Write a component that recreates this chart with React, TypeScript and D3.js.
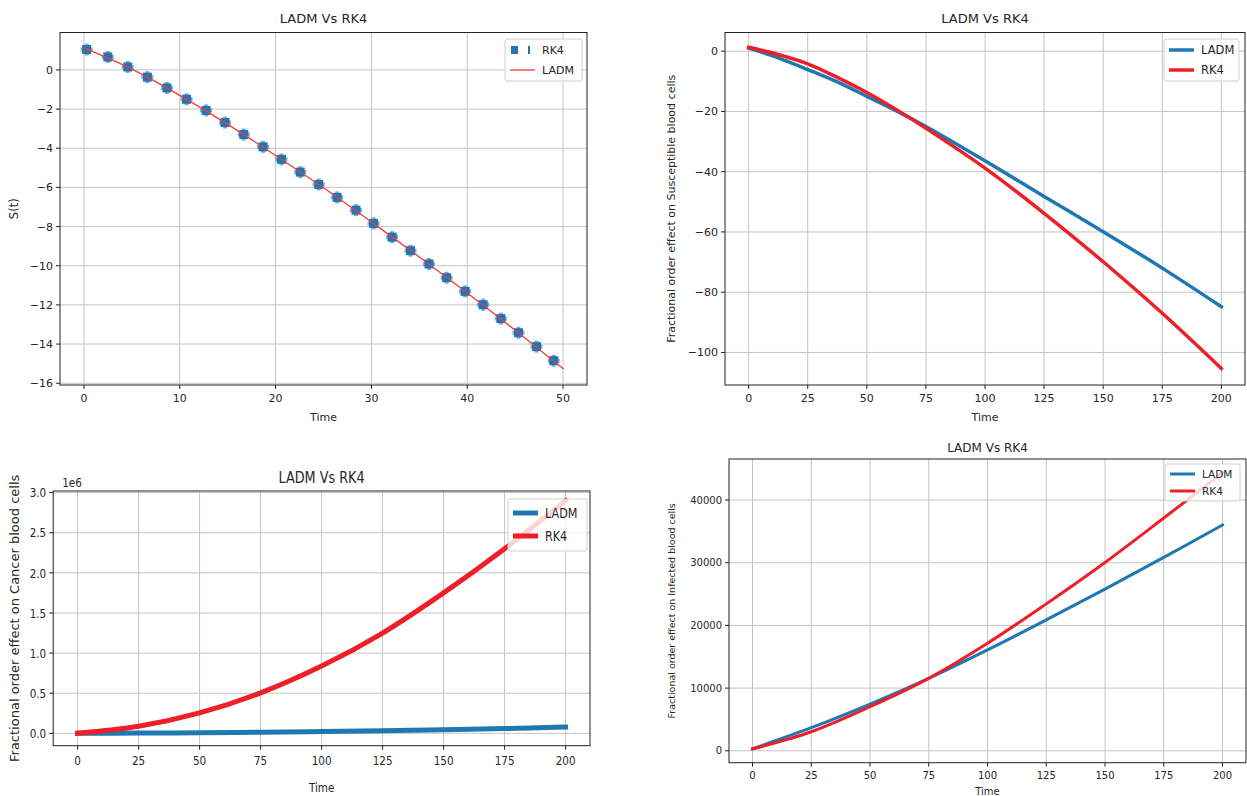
import React from "react";
import * as d3 from "d3";

// ---------- DATA ----------
// Panel 1: S(t)
const p1RkT = [0.28, 2.49, 4.57, 6.62, 8.66, 10.71, 12.75, 14.72, 16.68, 18.69, 20.61, 22.57, 24.5, 26.42, 28.39, 30.23, 32.16, 34.08, 36.01, 37.85, 39.78, 41.66, 43.51, 45.35, 47.23, 49.03];
const p1RkV = [1.04, 0.66, 0.15, -0.37, -0.92, -1.5, -2.07, -2.69, -3.3, -3.93, -4.57, -5.22, -5.85, -6.51, -7.16, -7.84, -8.54, -9.23, -9.91, -10.61, -11.31, -11.99, -12.7, -13.42, -14.13, -14.85];
const p1LadmT = [0, 5, 10, 15, 20, 25, 30, 35, 40, 45, 50];
const p1LadmV = [1.12, 0.04, -1.3, -2.78, -4.37, -6.02, -7.76, -9.55, -11.39, -13.29, -15.25];
const p1XTicks = [0, 10, 20, 30, 40, 50];
const p1YTicks = [0, -2, -4, -6, -8, -10, -12, -14, -16];

// Panel 2: Susceptible
const p2T = [0, 12.5, 25, 37.5, 50, 62.5, 75, 100, 125, 150, 175, 200];
const p2Ladm = [1.0, -2.2, -6.1, -10.2, -15.0, -19.8, -25.0, -36.4, -48.2, -59.9, -72.0, -84.8];
const p2Rk4 = [1.3, -1.1, -4.2, -8.7, -13.7, -19.4, -25.6, -38.8, -53.8, -69.9, -87.0, -105.3];
const p2XTicks = [0, 25, 50, 75, 100, 125, 150, 175, 200];
const p2YTicks = [0, -20, -40, -60, -80, -100];

// Panel 3: Cancer (values in 1e6)
const p3T = [0, 25, 50, 75, 100, 125, 150, 175, 200];
const p3Ladm = [0, 0.003, 0.007, 0.014, 0.022, 0.033, 0.045, 0.06, 0.078];
const p3Rk4 = [0, 0.088, 0.254, 0.504, 0.838, 1.25, 1.75, 2.3, 2.9];
const p3XTicks = [0, 25, 50, 75, 100, 125, 150, 175, 200];
const p3YTicks = [0, 0.5, 1.0, 1.5, 2.0, 2.5, 3.0];

// Panel 4: Infected
const p4T = [0, 25, 50, 75, 100, 125, 150, 175, 200];
const p4Ladm = [320, 3680, 7460, 11560, 16090, 20880, 25790, 30850, 36020];
const p4Rk4 = [300, 3040, 7030, 11560, 17150, 23440, 30050, 37130, 44350];
const p4XTicks = [0, 25, 50, 75, 100, 125, 150, 175, 200];
const p4YTicks = [0, 10000, 20000, 30000, 40000];

const BLUE = "#1f77b4";
const RED = "#ee1f26";
const FONT = "DejaVu Sans, sans-serif";
const TXT = "#262626";

const minus = (s: string) => s.replace("-", "\u2212");

type Series = { x: number[]; y: number[]; color: string; width: number; kind: "line" | "marker" };
type LegendItem = { label: string; color: string; width: number; kind: "line" | "marker" };

type PanelProps = {
  box: [number, number, number, number]; // left, right, top, bottom
  xDom: [number, number];
  yDom: [number, number];
  xTicks: number[];
  yTicks: number[];
  yFmt: (v: number) => string;
  title: string;
  titleY: number;
  titleSize: number;
  ylabel: string;
  ylabelX: number;
  ylabelSize: number;
  xlabelY: number;
  tickSize: number;
  series: Series[];
  legend: { x: number; y: number; w: number; h: number; fs: number; rowY: number[]; items: LegendItem[] };
  sx?: number;
  offset?: string;
};

function T({ x, y, sx = 1, children, ...rest }: any) {
  return (
    <text transform={`translate(${x},${y}) scale(${sx},1)`} fontFamily={FONT} fill={TXT} {...rest}>
      {children}
    </text>
  );
}

function Panel(p: PanelProps) {
  const [l, r, t, b] = p.box;
  const xs = d3.scaleLinear().domain(p.xDom).range([l, r]);
  const ys = d3.scaleLinear().domain(p.yDom).range([b, t]);
  const sx = p.sx ?? 1;
  const line = d3
    .line<[number, number]>()
    .x((d) => xs(d[0]))
    .y((d) => ys(d[1]))
    .curve(d3.curveCatmullRom);
  const cid = `clip${Math.round(l)}${Math.round(t)}`;
  return (
    <g>
      <defs>
        <clipPath id={cid}>
          <rect x={l} y={t} width={r - l} height={b - t} />
        </clipPath>
      </defs>
      {/* grid */}
      {p.xTicks.map((v) => (
        <line key={"gx" + v} x1={xs(v)} x2={xs(v)} y1={t} y2={b} stroke="#c4c4c4" strokeWidth={1} />
      ))}
      {p.yTicks.map((v) => (
        <line key={"gy" + v} x1={l} x2={r} y1={ys(v)} y2={ys(v)} stroke="#c4c4c4" strokeWidth={1} />
      ))}
      {/* series */}
      <g clipPath={`url(#${cid})`}>
        {p.series.map((s, i) => {
          const pts = s.x.map((xv, j) => [xv, s.y[j]] as [number, number]);
          if (s.kind === "line")
            return (
              <path key={i} d={line(pts) || ""} fill="none" stroke={s.color} strokeWidth={s.width} strokeLinecap="square" />
            );
          return (
            <g key={i}>
              {pts.map((d, j) => (
                <g key={j} transform={`translate(${xs(d[0])},${ys(d[1])})`}>
                  <rect x={-4.5} y={-4.5} width={9} height={9} fill={s.color} />
                  <rect x={-6} y={-2} width={12} height={4} fill={s.color} opacity={0.6} />
                  <rect x={-2} y={-6} width={4} height={12} fill={s.color} opacity={0.6} />
                </g>
              ))}
            </g>
          );
        })}
      </g>
      {/* frame */}
      <rect x={l} y={t} width={r - l} height={b - t} fill="none" stroke="#222" strokeWidth={1} />
      {/* ticks */}
      {p.xTicks.map((v) => (
        <g key={"tx" + v}>
          <line x1={xs(v)} x2={xs(v)} y1={b} y2={b + 4} stroke="#222" />
          <T x={xs(v)} y={b + 7 + p.tickSize * 0.95} sx={sx} textAnchor="middle" fontSize={p.tickSize}>
            {minus(String(v))}
          </T>
        </g>
      ))}
      {p.yTicks.map((v) => (
        <g key={"ty" + v}>
          <line x1={l - 4} x2={l} y1={ys(v)} y2={ys(v)} stroke="#222" />
          <T x={l - 7} y={ys(v) + p.tickSize * 0.36} sx={sx} textAnchor="end" fontSize={p.tickSize}>
            {minus(p.yFmt(v))}
          </T>
        </g>
      ))}
      {p.offset && (
        <T x={l + 9} y={t - 4} sx={sx} fontSize={p.tickSize}>
          {p.offset}
        </T>
      )}
      {/* labels */}
      <T x={(l + r) / 2} y={p.titleY} sx={sx} textAnchor="middle" fontSize={p.titleSize}>
        {p.title}
      </T>
      <T x={(l + r) / 2} y={p.xlabelY} sx={sx} textAnchor="middle" fontSize={p.tickSize}>
        Time
      </T>
      <text
        transform={`translate(${p.ylabelX},${(t + b) / 2}) rotate(-90)`}
        textAnchor="middle"
        fontFamily={FONT}
        fill={TXT}
        fontSize={p.ylabelSize}
      >
        {p.ylabel}
      </text>
      {/* legend */}
      <rect
        x={p.legend.x}
        y={p.legend.y}
        width={p.legend.w}
        height={p.legend.h}
        rx={2}
        fill="white"
        fillOpacity={0.8}
        stroke="#d0d0d0"
      />
      {p.legend.items.map((it, i) => {
        const yy = p.legend.rowY[i];
        const x0 = p.legend.x + 5;
        return (
          <g key={"lg" + i}>
            {it.kind === "line" ? (
              <line x1={x0} x2={x0 + 25} y1={yy} y2={yy} stroke={it.color} strokeWidth={it.width} />
            ) : (
              <g>
                <rect x={x0 + 1} y={yy - 4} width={7} height={8} fill={it.color} />
                <rect x={x0 + 18} y={yy - 4} width={2} height={8} fill={it.color} />
              </g>
            )}
            <T x={x0 + 32} y={yy + p.legend.fs * 0.36} sx={sx} fontSize={p.legend.fs}>
              {it.label}
            </T>
          </g>
        );
      })}
    </g>
  );
}

export default function App() {
  return (
    <svg width={1247} height={796} style={{ position: "absolute", left: 0, top: 0, background: "white" }}>
      <rect width={1247} height={796} fill="white" />
      <Panel
        box={[60, 587, 32.5, 385]}
        xDom={[-2.5, 52.5]}
        yDom={[-16.09, 1.91]}
        xTicks={p1XTicks}
        yTicks={p1YTicks}
        yFmt={(v) => String(v)}
        title="LADM Vs RK4"
        titleY={23}
        titleSize={13}
        ylabel="S(t)"
        ylabelX={18}
        ylabelSize={11.5}
        xlabelY={421}
        tickSize={11}
        series={[
          { x: p1RkT, y: p1RkV, color: BLUE, width: 0, kind: "marker" },
          { x: p1LadmT, y: p1LadmV, color: "#f03c3c", width: 1.3, kind: "line" },
        ]}
        legend={{
          x: 505,
          y: 39,
          w: 77,
          h: 42,
          fs: 11,
          rowY: [50, 70],
          items: [
            { label: "RK4", color: BLUE, width: 0, kind: "marker" },
            { label: "LADM", color: "#f03c3c", width: 1.3, kind: "line" },
          ],
        }}
      />
      <Panel
        box={[725, 1245, 32.5, 385]}
        xDom={[-10, 210]}
        yDom={[-110.8, 6.2]}
        xTicks={p2XTicks}
        yTicks={p2YTicks}
        yFmt={(v) => String(v)}
        title="LADM Vs RK4"
        titleY={23}
        titleSize={13}
        ylabel="Fractional order effect on Susceptible blood cells"
        ylabelX={675}
        ylabelSize={11}
        xlabelY={421}
        tickSize={11}
        series={[
          { x: p2T, y: p2Ladm, color: BLUE, width: 3.5, kind: "line" },
          { x: p2T, y: p2Rk4, color: RED, width: 3.5, kind: "line" },
        ]}
        legend={{
          x: 1164,
          y: 39,
          w: 75,
          h: 42,
          fs: 11.5,
          rowY: [50, 70],
          items: [
            { label: "LADM", color: BLUE, width: 3.5, kind: "line" },
            { label: "RK4", color: RED, width: 3.5, kind: "line" },
          ],
        }}
      />
      <Panel
        box={[53.2, 590, 491, 745.7]}
        xDom={[-10, 210]}
        yDom={[-0.154, 3.02]}
        xTicks={p3XTicks}
        yTicks={p3YTicks}
        yFmt={(v) => v.toFixed(1)}
        title="LADM Vs RK4"
        titleY={483}
        titleSize={16}
        ylabel="Fractional order effect on Cancer blood cells"
        ylabelX={19}
        ylabelSize={13}
        xlabelY={792}
        tickSize={13}
        sx={0.8}
        offset="1e6"
        series={[
          { x: p3T, y: p3Ladm, color: BLUE, width: 5, kind: "line" },
          { x: p3T, y: p3Rk4, color: RED, width: 5, kind: "line" },
        ]}
        legend={{
          x: 508,
          y: 499,
          w: 79,
          h: 52,
          fs: 14,
          rowY: [513, 536],
          items: [
            { label: "LADM", color: BLUE, width: 5, kind: "line" },
            { label: "RK4", color: RED, width: 5, kind: "line" },
          ],
        }}
      />
      <Panel
        box={[729, 1246, 459, 762.7]}
        xDom={[-10, 210]}
        yDom={[-1900, 46550]}
        xTicks={p4XTicks}
        yTicks={p4YTicks}
        yFmt={(v) => String(v)}
        title="LADM Vs RK4"
        titleY={452}
        titleSize={12}
        ylabel="Fractional order effect on Infected blood cells"
        ylabelX={675}
        ylabelSize={9.5}
        xlabelY={795}
        tickSize={10}
        series={[
          { x: p4T, y: p4Ladm, color: BLUE, width: 3, kind: "line" },
          { x: p4T, y: p4Rk4, color: RED, width: 3, kind: "line" },
        ]}
        legend={{
          x: 1165,
          y: 464,
          w: 75,
          h: 37,
          fs: 10.5,
          rowY: [474, 491],
          items: [
            { label: "LADM", color: BLUE, width: 3, kind: "line" },
            { label: "RK4", color: RED, width: 3, kind: "line" },
          ],
        }}
      />
    </svg>
  );
}
